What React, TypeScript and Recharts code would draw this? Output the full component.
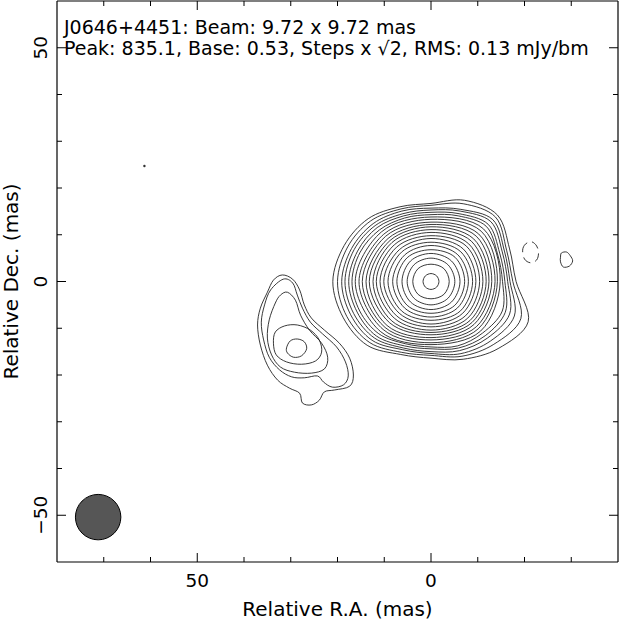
import React from 'react';
import { ComposedChart, Line, XAxis, YAxis, ReferenceDot } from 'recharts';

// axis ticks (mas)
const xTicks = [-30, -20, -10, 0, 10, 20, 30, 40, 50, 60, 70];
const yTicks = [-50, -40, -30, -20, -10, 0, 10, 20, 30, 40, 50];
const xDomain = [-40, 80];
const yDomain = [-60, 60];

// core: radii (mas) of the outer contours, 16 directions from west going anticlockwise
const mainOuterRings = [
  [18.2, 18.2, 20.1, 18.8, 16.7, 17.3, 19.0, 20.1, 21.0, 20.3, 19.3, 16.9, 16.4, 18.0, 20.3, 22.5],
  [17.5, 17.5, 19.5, 18.0, 16.3, 16.8, 18.3, 19.3, 20.0, 19.5, 18.5, 16.4, 15.8, 17.3, 19.0, 20.8],
  [16.9, 17.0, 18.7, 16.7, 15.7, 16.3, 17.5, 18.4, 19.1, 18.6, 17.8, 15.8, 15.4, 16.7, 18.0, 19.3],
  [16.4, 16.5, 18.1, 16.3, 15.3, 15.7, 16.9, 17.8, 18.4, 17.9, 17.1, 15.4, 15.0, 16.0, 17.1, 18.2],
  [15.8, 15.9, 17.3, 15.7, 14.8, 15.2, 16.3, 17.0, 17.6, 17.1, 16.5, 14.9, 14.4, 15.4, 16.4, 17.2],
  [15.3, 15.4, 16.7, 15.2, 14.3, 14.7, 15.6, 16.4, 16.9, 16.5, 15.8, 14.4, 14.0, 14.9, 15.6, 16.5],
];

// core: inner contours, 8 directions
const mainInnerRings = [
  [14.8, 15.9, 13.8, 15.0, 16.2, 15.2, 13.5, 15.0],
  [14.2, 15.2, 13.3, 14.3, 15.4, 14.5, 13.1, 14.3],
  [13.7, 14.4, 12.7, 13.7, 14.7, 13.9, 12.5, 13.7],
  [13.0, 13.7, 12.2, 13.0, 13.9, 13.3, 12.0, 13.0],
  [12.4, 12.9, 11.7, 12.4, 13.2, 12.5, 11.4, 12.4],
  [11.8, 12.2, 11.1, 11.8, 12.4, 11.9, 10.9, 11.8],
  [11.1, 11.4, 10.5, 11.1, 11.7, 11.1, 10.4, 11.1],
  [10.4, 10.7, 9.8, 10.4, 10.9, 10.4, 9.7, 10.4],
  [9.6, 9.8, 9.2, 9.6, 10.1, 9.6, 9.1, 9.6],
  [8.9, 9.0, 8.4, 8.9, 9.2, 8.9, 8.3, 8.9],
  [8.0, 8.1, 7.7, 8.0, 8.2, 8.0, 7.6, 8.0],
  [7.2, 7.3, 6.8, 7.2, 7.3, 7.2, 6.8, 7.2],
  [6.2, 6.2, 6.0, 6.2, 6.2, 6.2, 6.0, 6.2],
  [5.1, 5.1, 5.0, 5.1, 5.1, 5.1, 5.0, 5.1],
  [3.9, 3.9, 3.7, 3.9, 3.9, 3.9, 3.7, 3.9],
  [1.7, 1.7, 1.7, 1.7, 1.7, 1.7, 1.7, 1.7],
];

// eastern knot, outer -> inner, [RA, Dec]
const knotOuter = [
  [31.8, 1.4], [29.6, 0.5], [28.1, -1.8], [27.1, -5.0], [25.6, -7.8], [22.8, -10.4], [19.6, -13.2],
  [17.4, -16.4], [16.6, -20.0], [17.4, -22.4], [20.6, -23.2], [22.8, -23.6], [23.9, -25.4], [25.6, -26.4],
  [27.5, -26.0], [28.1, -23.9], [30.3, -22.8], [32.8, -21.1], [35.0, -17.9], [36.5, -13.6], [37.1, -9.3],
  [36.5, -5.7], [35.0, -2.3], [33.7, 0.3],
];
const knotSecond = [
  [31.6, 0.5], [29.6, -0.3], [28.6, -2.9], [27.5, -5.7], [25.8, -8.7], [23.2, -11.2], [20.2, -14.0],
  [18.3, -17.2], [17.7, -20.2], [18.7, -22.1], [21.1, -22.6], [23.0, -21.5], [24.3, -20.2], [27.1, -20.6],
  [29.8, -20.4], [32.4, -18.9], [34.6, -16.2], [35.8, -12.5], [36.3, -8.7], [35.6, -5.0], [34.3, -1.8],
];
const knotThird = [
  [30.7, -2.3], [29.0, -4.0], [27.9, -7.2], [26.0, -10.4], [23.4, -13.2], [22.1, -16.2], [22.8, -18.7],
  [25.6, -19.6], [29.2, -19.4], [32.2, -18.3], [34.1, -15.7], [35.0, -12.1], [34.6, -8.2], [33.3, -4.6],
  [32.2, -2.9],
];
const knotFourth = [
  [33.3, -10.8], [31.3, -9.5], [28.6, -9.3], [25.8, -10.4], [23.9, -12.5], [23.4, -15.1], [24.7, -17.0],
  [27.7, -17.7], [30.9, -17.2], [33.1, -15.7], [33.7, -13.2],
];
const knotPeak = [
  [30.9, -14.2], [30.1, -12.7], [28.6, -12.3], [27.1, -12.9], [26.6, -14.4], [27.7, -15.9], [29.4, -16.2],
  [30.7, -15.3],
];

// small features west of the core
const westBlob = [
  [-27.9, 6.1], [-29.0, 6.3], [-29.8, 5.5], [-30.3, 4.4], [-29.6, 3.3], [-28.3, 3.1], [-27.7, 4.2], [-27.7, 5.2],
];
const negativeRing = [
  [-19.6, 6.7], [-20.2, 8.0], [-21.5, 8.5], [-22.6, 7.6], [-23.0, 6.1], [-22.6, 4.6], [-21.3, 4.0], [-20.0, 4.8],
];
const strayPoint = { x: 61.3, y: 24.7 };
const beam = { x: 71.2, y: -50.4, size: 9.72 };

const FONT = '"DejaVu Sans", sans-serif';
const W = 620;
const H = 630;
// plot box runs from x=57 to 618 and y=1 to 562
const margin = { top: 0, right: 1, bottom: 38, left: 17 };
const axisSize = { left: 40, right: 1, top: 1, bottom: 30 };
const plot = { left: 57, right: 618, top: 1, bottom: 562 };
const pxPerMas = (plot.right - plot.left) / (xDomain[1] - xDomain[0]);

const ring = (radii: number[]) =>
  radii.map((r, i) => {
    const a = (2 * Math.PI * i) / radii.length;
    return { x: -r * Math.cos(a), y: r * Math.sin(a) };
  });
const toPoints = (pts: number[][]) => pts.map(([x, y]) => ({ x, y }));

// closed catmull-rom curve so the contours pass through the read points
const smoothClosed = (context: any) => {
  let pts: number[][] = [];
  return {
    areaStart() {},
    areaEnd() {},
    lineStart() {
      pts = [];
    },
    point(x: number, y: number) {
      pts.push([+x, +y]);
    },
    lineEnd() {
      const n = pts.length;
      if (n < 3) return;
      context.moveTo(pts[0][0], pts[0][1]);
      for (let i = 0; i < n; i++) {
        const a = pts[(i + n - 1) % n];
        const b = pts[i];
        const c = pts[(i + 1) % n];
        const d = pts[(i + 2) % n];
        context.bezierCurveTo(
          b[0] + (c[0] - a[0]) / 6, b[1] + (c[1] - a[1]) / 6,
          c[0] - (d[0] - b[0]) / 6, c[1] - (d[1] - b[1]) / 6,
          c[0], c[1]
        );
      }
      context.closePath();
    },
  };
};

const contours = [
  ...mainOuterRings.map(ring),
  ...mainInnerRings.map(ring),
  ...[knotOuter, knotSecond, knotThird, knotFourth, knotPeak].map(toPoints),
  toPoints(westBlob),
];

const fmt = (v: number) => (v < 0 ? '\u2212' + Math.abs(v) : String(v));
const isMajor = (v: number) => v % 50 === 0;
const tickLen = (v: number) => (isMajor(v) ? 9 : 5);

const BottomTick = ({ x, payload }: any) => (
  <g>
    <line x1={x} x2={x} y1={plot.bottom} y2={plot.bottom - tickLen(payload.value)} stroke="#000" />
    {isMajor(payload.value) && (
      <text x={x} y={plot.bottom + 25} textAnchor="middle" fontSize={18.5} fontFamily={FONT} fill="#000">
        {fmt(payload.value)}
      </text>
    )}
  </g>
);
const TopTick = ({ x, payload }: any) => (
  <line x1={x} x2={x} y1={plot.top} y2={plot.top + tickLen(payload.value)} stroke="#000" />
);
const LeftTick = ({ y, payload }: any) => (
  <g>
    <line x1={plot.left} x2={plot.left + tickLen(payload.value)} y1={y} y2={y} stroke="#000" />
    {isMajor(payload.value) && (
      <text
        x={plot.left - 10.5}
        y={y}
        transform={`rotate(-90 ${plot.left - 10.5} ${y})`}
        textAnchor="middle"
        fontSize={18.5}
        fontFamily={FONT}
        fill="#000"
      >
        {fmt(payload.value)}
      </text>
    )}
  </g>
);
const RightTick = ({ y, payload }: any) => (
  <line x1={plot.right} x2={plot.right - tickLen(payload.value)} y1={y} y2={y} stroke="#000" />
);

const frame = { stroke: '#000', strokeWidth: 1.2 };

export default function App() {
  const plotMidX = (plot.left + plot.right) / 2;
  const plotMidY = (plot.top + plot.bottom) / 2;
  return (
    <div style={{ position: 'absolute', left: 0, top: 0, width: W, height: H, background: '#fff' }}>
      <ComposedChart width={W} height={H} margin={margin}>
        <XAxis
          dataKey="x"
          type="number"
          domain={xDomain}
          reversed
          allowDataOverflow
          ticks={xTicks}
          interval={0}
          height={axisSize.bottom}
          tickSize={0}
          tickMargin={0}
          tickLine={false}
          tick={BottomTick}
          axisLine={frame}
        />
        <XAxis
          xAxisId="top"
          orientation="top"
          dataKey="x"
          type="number"
          domain={xDomain}
          reversed
          allowDataOverflow
          ticks={xTicks}
          interval={0}
          height={axisSize.top}
          tickSize={0}
          tickMargin={0}
          tickLine={false}
          tick={TopTick}
          axisLine={frame}
        />
        <YAxis
          type="number"
          domain={yDomain}
          allowDataOverflow
          ticks={yTicks}
          interval={0}
          width={axisSize.left}
          tickSize={0}
          tickMargin={0}
          tickLine={false}
          tick={LeftTick}
          axisLine={frame}
        />
        <YAxis
          yAxisId="right"
          orientation="right"
          type="number"
          domain={yDomain}
          allowDataOverflow
          ticks={yTicks}
          interval={0}
          width={axisSize.right}
          tickSize={0}
          tickMargin={0}
          tickLine={false}
          tick={RightTick}
          axisLine={frame}
        />
        {contours.map((pts, i) => (
          <Line
            key={i}
            data={pts}
            dataKey="y"
            type={smoothClosed as any}
            stroke="#222"
            strokeWidth={0.9}
            dot={false}
            activeDot={false}
            isAnimationActive={false}
          />
        ))}
        <Line
          data={toPoints(negativeRing)}
          dataKey="y"
          type={smoothClosed as any}
          stroke="#222"
          strokeWidth={0.9}
          strokeDasharray="9 5"
          dot={false}
          activeDot={false}
          isAnimationActive={false}
        />
        <ReferenceDot x={strayPoint.x} y={strayPoint.y} r={1.2} fill="#333" stroke="none" />
        <ReferenceDot
          x={beam.x}
          y={beam.y}
          r={(beam.size / 2) * pxPerMas}
          fill="#565656"
          stroke="#000"
          strokeWidth={1}
        />
      </ComposedChart>
      <svg
        width={W}
        height={H}
        style={{ position: 'absolute', left: 0, top: 0, pointerEvents: 'none' }}
        fontFamily={FONT}
      >
        <text x={64} y={33.5} fontSize={19} fill="#000">
          J0646+4451: Beam: 9.72 x 9.72 mas
        </text>
        <text x={64} y={54.5} fontSize={19} fill="#000">
          Peak: 835.1, Base: 0.53, Steps x {'\u221A'}2, RMS: 0.13 mJy/bm
        </text>
        <text x={plotMidX} y={616} fontSize={20} textAnchor="middle" fill="#000">
          Relative R.A. (mas)
        </text>
        <text
          x={18}
          y={plotMidY}
          fontSize={20}
          textAnchor="middle"
          transform={`rotate(-90 18 ${plotMidY})`}
          fill="#000"
        >
          Relative Dec. (mas)
        </text>
      </svg>
    </div>
  );
}
